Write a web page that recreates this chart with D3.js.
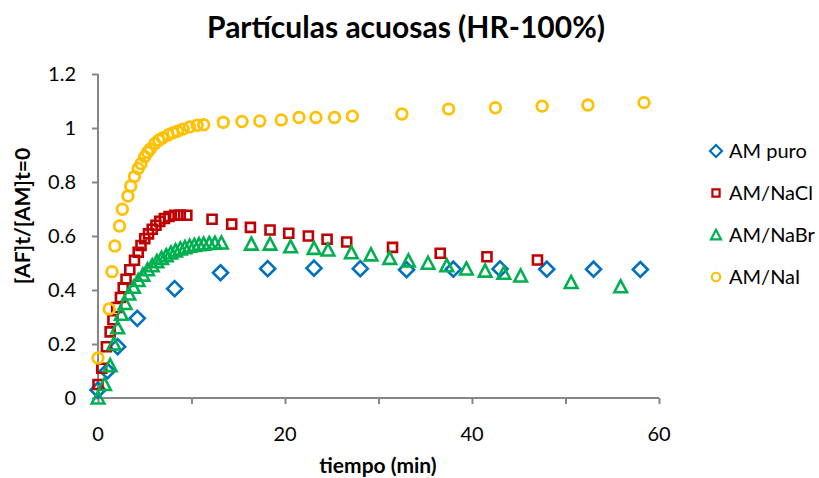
<!DOCTYPE html>
<html><head><meta charset="utf-8">
<script src="https://cdn.jsdelivr.net/npm/d3@7"></script>
<style>body{margin:0;background:#fff}svg{display:block}text{font-family:Lato,"Open Sans",sans-serif}</style>
</head><body><svg id="c" width="819" height="478"></svg>
<script>
const title = "Partículas acuosas (HR-100%)";
const xLabel = "tiempo (min)";
const yLabel = "[AF]t/[AM]t=0";
const seriesNames = ["AM puro","AM/NaCl","AM/NaBr","AM/NaI"];
const seriesColors = ["#0070C0","#C00000","#00B050","#FFC000"];
const xTicks = [0,10,20,30,40,50,60];
const xTickLabels = [0,20,40,60];
const yTicks = [0,0.2,0.4,0.6,0.8,1,1.2];

const amPuro = [[0,0.03],[1,0.1],[2.1,0.19],[4.2,0.295],[8.2,0.405],[13.1,0.464],[18.15,0.479],[23.1,0.481],[28.05,0.479],[33.0,0.475],[38.0,0.477],[43.0,0.478],[48.0,0.477],[53.0,0.477],[58.0,0.476]];
const amNaCl = [[0,0.05],[0.4,0.11],[0.9,0.19],[1.3,0.245],[1.6,0.29],[2.0,0.335],[2.4,0.372],[2.7,0.408],[3.0,0.44],[3.4,0.475],[3.9,0.51],[4.3,0.54],[4.6,0.565],[5.0,0.59],[5.4,0.608],[5.8,0.625],[6.2,0.64],[6.6,0.654],[7.1,0.665],[7.6,0.672],[8.2,0.677],[8.8,0.678],[9.5,0.677],[12.2,0.662],[14.3,0.644],[16.3,0.632],[18.4,0.622],[20.4,0.61],[22.5,0.6],[24.5,0.588],[26.6,0.578],[31.5,0.558],[36.6,0.536],[41.6,0.523],[47.0,0.511]];
const amNaBr = [[0,0],[0.7,0.05],[1.3,0.12],[1.7,0.2],[2.1,0.26],[2.5,0.31],[2.9,0.35],[3.3,0.385],[3.8,0.41],[4.3,0.435],[4.8,0.455],[5.3,0.475],[5.8,0.49],[6.3,0.505],[6.8,0.517],[7.3,0.527],[7.8,0.537],[8.3,0.545],[8.8,0.552],[9.3,0.557],[9.8,0.562],[10.3,0.565],[10.8,0.568],[11.3,0.57],[11.9,0.572],[12.5,0.573],[13.2,0.574],[16.4,0.57],[18.4,0.57],[20.6,0.56],[23.1,0.554],[24.6,0.548],[27.1,0.538],[29.2,0.53],[31.2,0.517],[33.2,0.508],[35.3,0.499],[37.3,0.49],[39.4,0.478],[41.4,0.47],[43.4,0.462],[45.2,0.452],[50.6,0.428],[55.9,0.412]];
const amNaI = [[0,0.148],[1.2,0.33],[1.5,0.468],[1.8,0.563],[2.3,0.637],[2.6,0.699],[3.2,0.748],[3.5,0.785],[3.9,0.82],[4.3,0.85],[4.6,0.868],[5.0,0.894],[5.3,0.91],[5.6,0.922],[6.1,0.943],[6.5,0.955],[6.9,0.963],[7.5,0.974],[8.0,0.982],[8.5,0.988],[9.1,0.996],[9.8,1.004],[10.6,1.01],[11.3,1.012],[13.4,1.021],[15.4,1.024],[17.3,1.026],[19.6,1.03],[21.5,1.039],[23.3,1.039],[25.3,1.039],[27.2,1.044],[32.5,1.052],[37.5,1.07],[42.5,1.075],[47.5,1.081],[52.4,1.085],[58.4,1.094]];
const allSeries = [amPuro, amNaCl, amNaBr, amNaI];

const svg = d3.select("#c");
const L = 98, R = 659, T = 74, B = 398;
const x = d3.scaleLinear().domain([0,60]).range([L,R]);
const y = d3.scaleLinear().domain([0,1.2]).range([B,T]);
const axisColor = "#868686";

// title
svg.append("text").attr("x",406).attr("y",38).attr("text-anchor","middle")
  .attr("font-size",30).attr("font-weight","bold").attr("fill","#000").text(title);

// axes
const xa = svg.append("g").attr("transform",`translate(0,${B})`)
  .call(d3.axisBottom(x).tickValues(xTicks).tickSize(6).tickFormat(""));
const ya = svg.append("g").attr("transform",`translate(${L},0)`)
  .call(d3.axisLeft(y).tickValues(yTicks).tickSize(6).tickFormat(""));
[xa,ya].forEach(g=>{g.selectAll("path,line").attr("stroke",axisColor).attr("stroke-width",2);});
xa.select(".domain").attr("d",`M${L},0H${R}`);
ya.select(".domain").attr("d",`M0,${B}V${T}`);

svg.append("g").selectAll("text").data(xTickLabels).join("text")
  .attr("x",d=>x(d)).attr("y",441).attr("text-anchor","middle")
  .attr("font-size",20).attr("fill","#000").text(d=>d);
svg.append("g").selectAll("text").data(yTicks).join("text")
  .attr("x",76).attr("y",d=>y(d)+7).attr("text-anchor","end")
  .attr("font-size",20).attr("fill","#000").text(d=>d);

svg.append("text").attr("x",378).attr("y",473).attr("text-anchor","middle")
  .attr("font-size",21).attr("font-weight","bold").text(xLabel);
svg.append("text").attr("transform","translate(30,216) rotate(-90)").attr("text-anchor","middle")
  .attr("font-size",21).attr("font-weight","bold").text(yLabel);

// marker shapes
function shapePath(i){
  if(i===0) return "M0,-7.5L7.5,0L0,7.5L-7.5,0Z";
  if(i===1) return "M-4.5,-4.5H4.5V4.5H-4.5Z";
  if(i===2) return "M0,-6.5L6.3,5.5H-6.3Z";
  return d3.arc()({innerRadius:0,outerRadius:5.3,startAngle:0,endAngle:2*Math.PI});
}
function drawMarkers(g,i,data){
  g.selectAll("path").data(data).join("path")
    .attr("transform",d=>`translate(${x(d[0])},${y(d[1])})`)
    .attr("d",shapePath(i)).attr("fill","none")
    .attr("stroke",seriesColors[i]).attr("stroke-width",i===3?2.8:2.6)
    .attr("stroke-linejoin","miter");
}
allSeries.forEach((s,i)=>drawMarkers(svg.append("g"),i,s));

// legend
const legY = [151,193,235,277];
const leg = svg.append("g");
seriesNames.forEach((n,i)=>{
  const sc = 0.8;
  leg.append("path").attr("transform",`translate(716,${legY[i]}) scale(${sc})`)
    .attr("d",shapePath(i)).attr("fill","none").attr("stroke",seriesColors[i]).attr("stroke-width",2.2/sc);
  leg.append("text").attr("x",729).attr("y",legY[i]+7).attr("font-size",20).text(n);
});
</script></body></html>
